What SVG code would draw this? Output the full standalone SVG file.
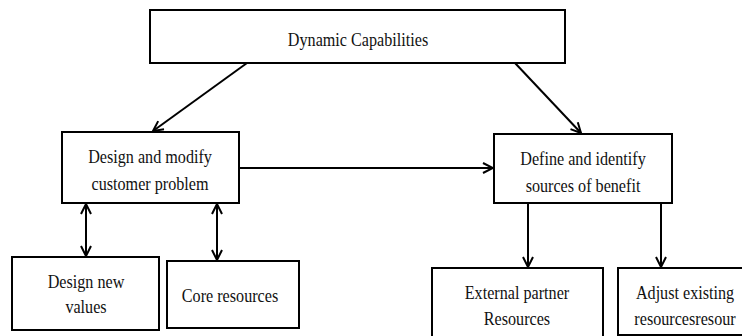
<svg xmlns="http://www.w3.org/2000/svg" width="742" height="336" viewBox="0 0 742 336">
<style>
.box{fill:#fff;stroke:#000;stroke-width:2}
.t{font-family:"Liberation Serif","Times New Roman",serif;font-size:19px;fill:#111;text-anchor:middle}
.c{stroke:#000;stroke-width:2;fill:none}
</style>
<defs>
<marker id="ah" viewBox="0 0 12 12" refX="11" refY="6" markerWidth="12" markerHeight="12" markerUnits="userSpaceOnUse" orient="auto-start-reverse">
<path d="M1,1 L11,6 L1,11" fill="none" stroke="#000" stroke-width="2"/>
</marker>
</defs>
<rect width="742" height="336" fill="#fff"/>
<g id="connectors">
<line class="c" x1="247" y1="63" x2="153" y2="131" marker-end="url(#ah)"/>
<line class="c" x1="515" y1="63" x2="581" y2="133" marker-end="url(#ah)"/>
<line class="c" x1="239" y1="168" x2="493" y2="168" marker-end="url(#ah)"/>
<line class="c" x1="86" y1="204" x2="86" y2="256" marker-start="url(#ah)" marker-end="url(#ah)"/>
<line class="c" x1="217" y1="204" x2="217" y2="260" marker-start="url(#ah)" marker-end="url(#ah)"/>
<line class="c" x1="528" y1="203" x2="528" y2="267" marker-end="url(#ah)"/>
<line class="c" x1="661" y1="203" x2="661" y2="267" marker-end="url(#ah)"/>
</g>
<g id="dynamic">
<rect class="box" x="150" y="10" width="415" height="53"/>
<text class="t" transform="scale(0.85,1)" x="421.2" y="46">Dynamic Capabilities</text>
</g>
<g id="design-modify">
<rect class="box" x="62" y="132" width="177" height="71"/>
<text class="t" transform="scale(0.85,1)" x="176.5" y="163">Design and modify</text>
<text class="t" transform="scale(0.85,1)" x="176.5" y="190">customer problem</text>
</g>
<g id="define-identify">
<rect class="box" x="494" y="134" width="178" height="69"/>
<text class="t" transform="scale(0.85,1)" x="685.9" y="165">Define and identify</text>
<text class="t" transform="scale(0.85,1)" x="685.9" y="192">sources of benefit</text>
</g>
<g id="design-new">
<rect class="box" x="12" y="257" width="147" height="73"/>
<text class="t" transform="scale(0.85,1)" x="101.2" y="288">Design new</text>
<text class="t" transform="scale(0.85,1)" x="101.2" y="313">values</text>
</g>
<g id="core">
<rect class="box" x="167" y="261" width="132" height="67"/>
<text class="t" transform="scale(0.85,1)" x="270.6" y="302">Core resources</text>
</g>
<g id="external">
<rect class="box" x="432" y="268" width="171" height="80"/>
<text class="t" transform="scale(0.85,1)" x="608.2" y="299">External partner</text>
<text class="t" transform="scale(0.85,1)" x="608.2" y="325">Resources</text>
</g>
<g id="adjust">
<rect class="box" x="618" y="268" width="130" height="67"/>
<text class="t" transform="scale(0.85,1)" x="805.9" y="299">Adjust existing</text>
<text class="t" transform="scale(0.85,1)" x="805.9" y="325">resourcesresour</text>
</g>
</svg>
